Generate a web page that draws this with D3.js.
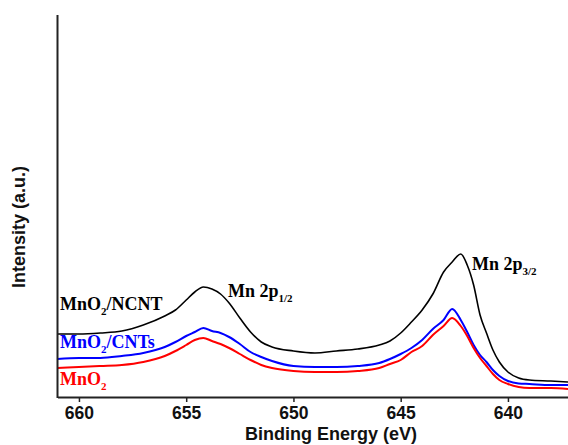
<!DOCTYPE html>
<html>
<head>
<meta charset="utf-8">
<script src="https://cdn.jsdelivr.net/npm/d3@7"></script>
<style>
  body { margin: 0; background: #fff; }
  svg { display: block; }
  .tick text { font-family: "Liberation Sans", Arial, sans-serif; font-weight: bold; font-size: 17.5px; fill: #111; }
  .title { font-family: "Liberation Sans", Arial, sans-serif; font-weight: bold; font-size: 18px; fill: #111; }
  .lbl { font-family: "Liberation Serif", "Times New Roman", serif; font-weight: bold; font-size: 18px; }
</style>
</head>
<body>
<div id="chart"></div>
<script>
// binding energy (eV), decreasing
const energy = [661, 660, 659, 658, 657, 656, 655.5, 655, 654.6, 654.2, 653.8, 653.4, 653, 652.5, 652, 651.5, 651,
  650, 649, 648, 647, 646, 645.5, 645, 644.5, 644, 643.5, 643, 642.6, 642.2, 641.9, 641.6, 641.3, 641, 640.7, 640.4,
  640, 639.5, 639, 638, 637.2];

// intensities (a.u.), offset as plotted
const ncnt = [630, 630, 640, 660, 720, 810, 870, 970, 1050, 1100, 1080, 1030, 940, 790, 650, 550, 500,
  460, 440, 460, 480, 520, 560, 640, 750, 870, 1030, 1250, 1350, 1430, 1320, 1120, 820, 640, 470, 350,
  250, 190, 170, 160, 150];
const cnts = [380, 390, 390, 410, 440, 500, 550, 610, 650, 690, 660, 640, 600, 530, 450, 400, 360,
  310, 300, 300, 310, 340, 380, 430, 490, 570, 680, 770, 880, 770, 650, 520, 420, 350, 270, 210,
  160, 135, 130, 120, 120];
const mno2 = [290, 300, 310, 320, 350, 410, 460, 520, 570, 590, 560, 530, 490, 430, 370, 320, 290,
  260, 250, 250, 260, 290, 330, 370, 450, 510, 620, 710, 790, 710, 610, 490, 390, 310, 230, 170,
  130, 100, 90, 90, 80];

const xTicks = [660, 655, 650, 645, 640];

const series = [
  { name: "MnO2/NCNT", values: ncnt, color: "#000000", width: 1.6 },
  { name: "MnO2/CNTs", values: cnts, color: "#0000ff", width: 2 },
  { name: "MnO2", values: mno2, color: "#ff0000", width: 2 }
];

const width = 568, height = 445;

const svg = d3.select("#chart").append("svg")
  .attr("width", width)
  .attr("height", height);

const x = d3.scaleLinear().domain([661, 637.2]).range([57.5, 568]);
const y = d3.scaleLinear().domain([0, 3820]).range([397, 15]);

const line = d3.line()
  .x((d, i) => x(energy[i]))
  .y(d => y(d))
  .curve(d3.curveMonotoneX);

svg.append("g")
  .selectAll("path")
  .data(series)
  .join("path")
  .attr("fill", "none")
  .attr("stroke", d => d.color)
  .attr("stroke-width", d => d.width)
  .attr("stroke-linejoin", "round")
  .attr("d", d => line(d.values));

// axes
const xAxis = svg.append("g")
  .attr("transform", `translate(0,${y(0)})`)
  .call(d3.axisBottom(x).tickValues(xTicks).tickFormat(d3.format("d")).tickSize(5).tickSizeOuter(0).tickPadding(5));
xAxis.select(".domain").attr("stroke", "#222").attr("stroke-width", 2);
xAxis.selectAll(".tick line").attr("stroke", "#222").attr("stroke-width", 1.5);

svg.append("line")
  .attr("x1", x(661)).attr("x2", x(661))
  .attr("y1", y(3820)).attr("y2", y(0) + 1)
  .attr("stroke", "#222")
  .attr("stroke-width", 2);

svg.append("text")
  .attr("class", "title")
  .attr("x", 331)
  .attr("y", 440)
  .attr("text-anchor", "middle")
  .text("Binding Energy (eV)");

svg.append("text")
  .attr("class", "title")
  .attr("transform", "translate(25,227) rotate(-90)")
  .attr("text-anchor", "middle")
  .text("Intensity (a.u.)");

// series labels
function subLabel(xp, yp, color, main, sub, rest, subSize) {
  const t = svg.append("text").attr("class", "lbl").attr("x", xp).attr("y", yp).attr("fill", color);
  t.append("tspan").text(main);
  t.append("tspan").attr("dy", 5).style("font-size", subSize + "px").text(sub);
  if (rest) t.append("tspan").attr("dy", -5).text(rest);
}

subLabel(60, 310, "#000", "MnO", "2", "/NCNT", 11);
subLabel(60, 348, "#0000ff", "MnO", "2", "/CNTs", 11);
subLabel(60, 385, "#ff0000", "MnO", "2", null, 11);
subLabel(228, 297, "#000", "Mn 2p", "1/2", null, 11);
subLabel(472, 270, "#000", "Mn 2p", "3/2", null, 11);
</script>
</body>
</html>
